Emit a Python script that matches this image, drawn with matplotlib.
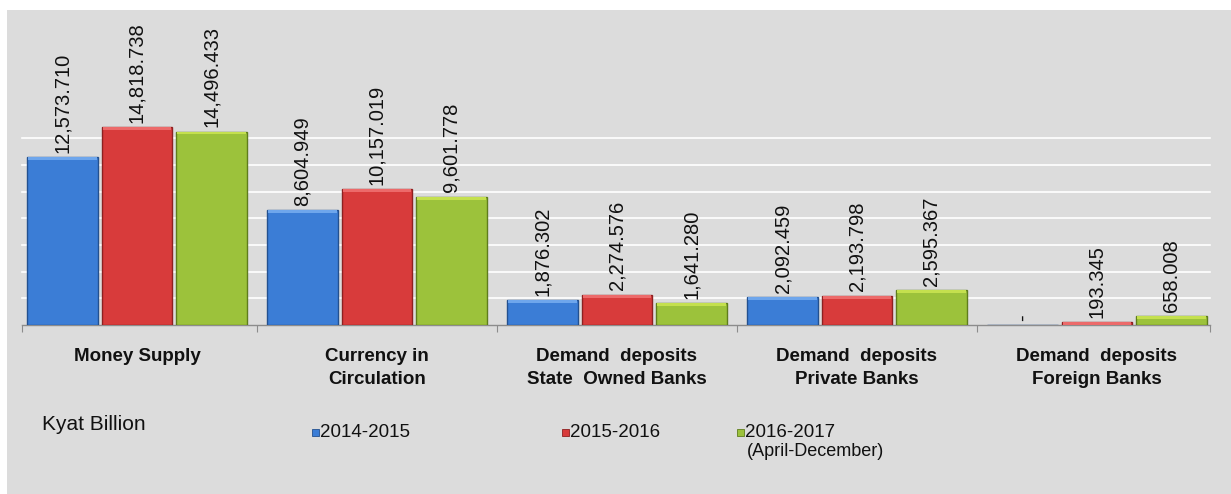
import matplotlib.pyplot as plt
import matplotlib.patches as mpatches
import numpy as np

# Money supply components, Kyat billion
categories = [
    "Money Supply",
    "Currency in\nCirculation",
    "Demand  deposits\nState  Owned Banks",
    "Demand  deposits\nPrivate Banks",
    "Demand  deposits\nForeign Banks",
]
fy_2014 = [12573.710, 8604.949, 1876.302, 2092.459, 0.0]
fy_2015 = [14818.738, 10157.019, 2274.576, 2193.798, 193.345]
fy_2016 = [14496.433, 9601.778, 1641.280, 2595.367, 658.008]
series_names = ["2014-2015", "2015-2016", "2016-2017"]

colors = ["#3b7dd6", "#d83b3b", "#9cc23b"]
tops = ["#6ea6ec", "#ec6a6a", "#c4e04e"]
edges = ["#23508f", "#8e2020", "#5f7d1c"]
bg = "#dcdcdc"
text_font = ["Liberation Sans", "DejaVu Sans"]
narrow_font = ["Liberation Sans Narrow", "Liberation Sans", "DejaVu Sans"]

fig = plt.figure(figsize=(12.31, 4.94), dpi=100, facecolor="white")
fig.patches.append(mpatches.Rectangle((7 / 1231, 0), 1, 484 / 494,
                                      transform=fig.transFigure,
                                      facecolor=bg, edgecolor="none", zorder=-5))

ax = fig.add_axes([17 / 1231, 169 / 494, 1200 / 1231, 315 / 494])
ax.set_facecolor("none")

x = np.arange(len(categories))
width = 0.295
offsets = [-0.31, 0.0, 0.31]
all_series = [fy_2014, fy_2015, fy_2016]
ymax = 23600
bevel = 220  # light strip along the top of each bar

for grid_y in range(2000, 16000, 2000):
    ax.axhline(grid_y, xmin=0.004, xmax=0.994, color="white", linewidth=1.2, zorder=1)

for vals, off, c, tc, ec in zip(all_series, offsets, colors, tops, edges):
    bars = ax.bar(x + off, vals, width, color=c, edgecolor=ec, linewidth=1.0, zorder=3)
    for b, v in zip(bars, vals):
        if v > 0:
            h = min(bevel, v)
            ax.bar(b.get_x() + b.get_width() / 2, h, width * 0.97, bottom=v - h,
                   color=tc, edgecolor="none", zorder=3.5)
        label = "-" if v == 0 else f"{v:,.3f}"
        ax.text(b.get_x() + b.get_width() / 2, v + 330, label, rotation=90,
                ha="center", va="bottom", fontsize=14.5, family=text_font,
                color="#111111", zorder=4)

ax.set_xlim(-0.5, len(categories) - 0.5)
ax.set_ylim(0, ymax)
for side in ["top", "right", "left"]:
    ax.spines[side].set_visible(False)
ax.spines["bottom"].set_color("#8c8c8c")
ax.spines["bottom"].set_linewidth(1.0)
ax.spines["bottom"].set_bounds(-0.48, len(categories) - 0.53)
ax.set_yticks([])
ax.set_xticks([-0.48, 0.5, 1.5, 2.5, 3.5, len(categories) - 0.53])
ax.set_xticklabels([])
ax.tick_params(axis="x", length=5, color="#8c8c8c", direction="out")

# category names under each group
for xi, name in zip(x, categories):
    ax.text(xi, -0.073 * ymax, name, ha="center", va="top",
            fontsize=13.5, fontweight="bold", family=narrow_font,
            linespacing=1.5, color="#111111")

# unit and legend row
fig.text(42 / 1231, 1 - 425 / 494, "Kyat Billion", fontsize=15,
         family=narrow_font, va="center", ha="left", color="#111111")
legend_x = [312, 562, 737]
for lx, name, c, ec in zip(legend_x, series_names, colors, edges):
    fig.patches.append(mpatches.Rectangle((lx / 1231, 1 - 436 / 494), 7 / 1231, 7 / 494,
                                          transform=fig.transFigure,
                                          facecolor=c, edgecolor=ec, linewidth=0.6))
    fig.text((lx + 8) / 1231, 1 - 432 / 494, name, fontsize=13.5, family=narrow_font,
             va="center", ha="left", color="#111111")
fig.text((legend_x[2] + 10) / 1231, 1 - 451 / 494, "(April-December)", fontsize=13,
         family=narrow_font, va="center", ha="left", color="#111111")

fig.savefig("out.png", dpi=100, facecolor=fig.get_facecolor())
